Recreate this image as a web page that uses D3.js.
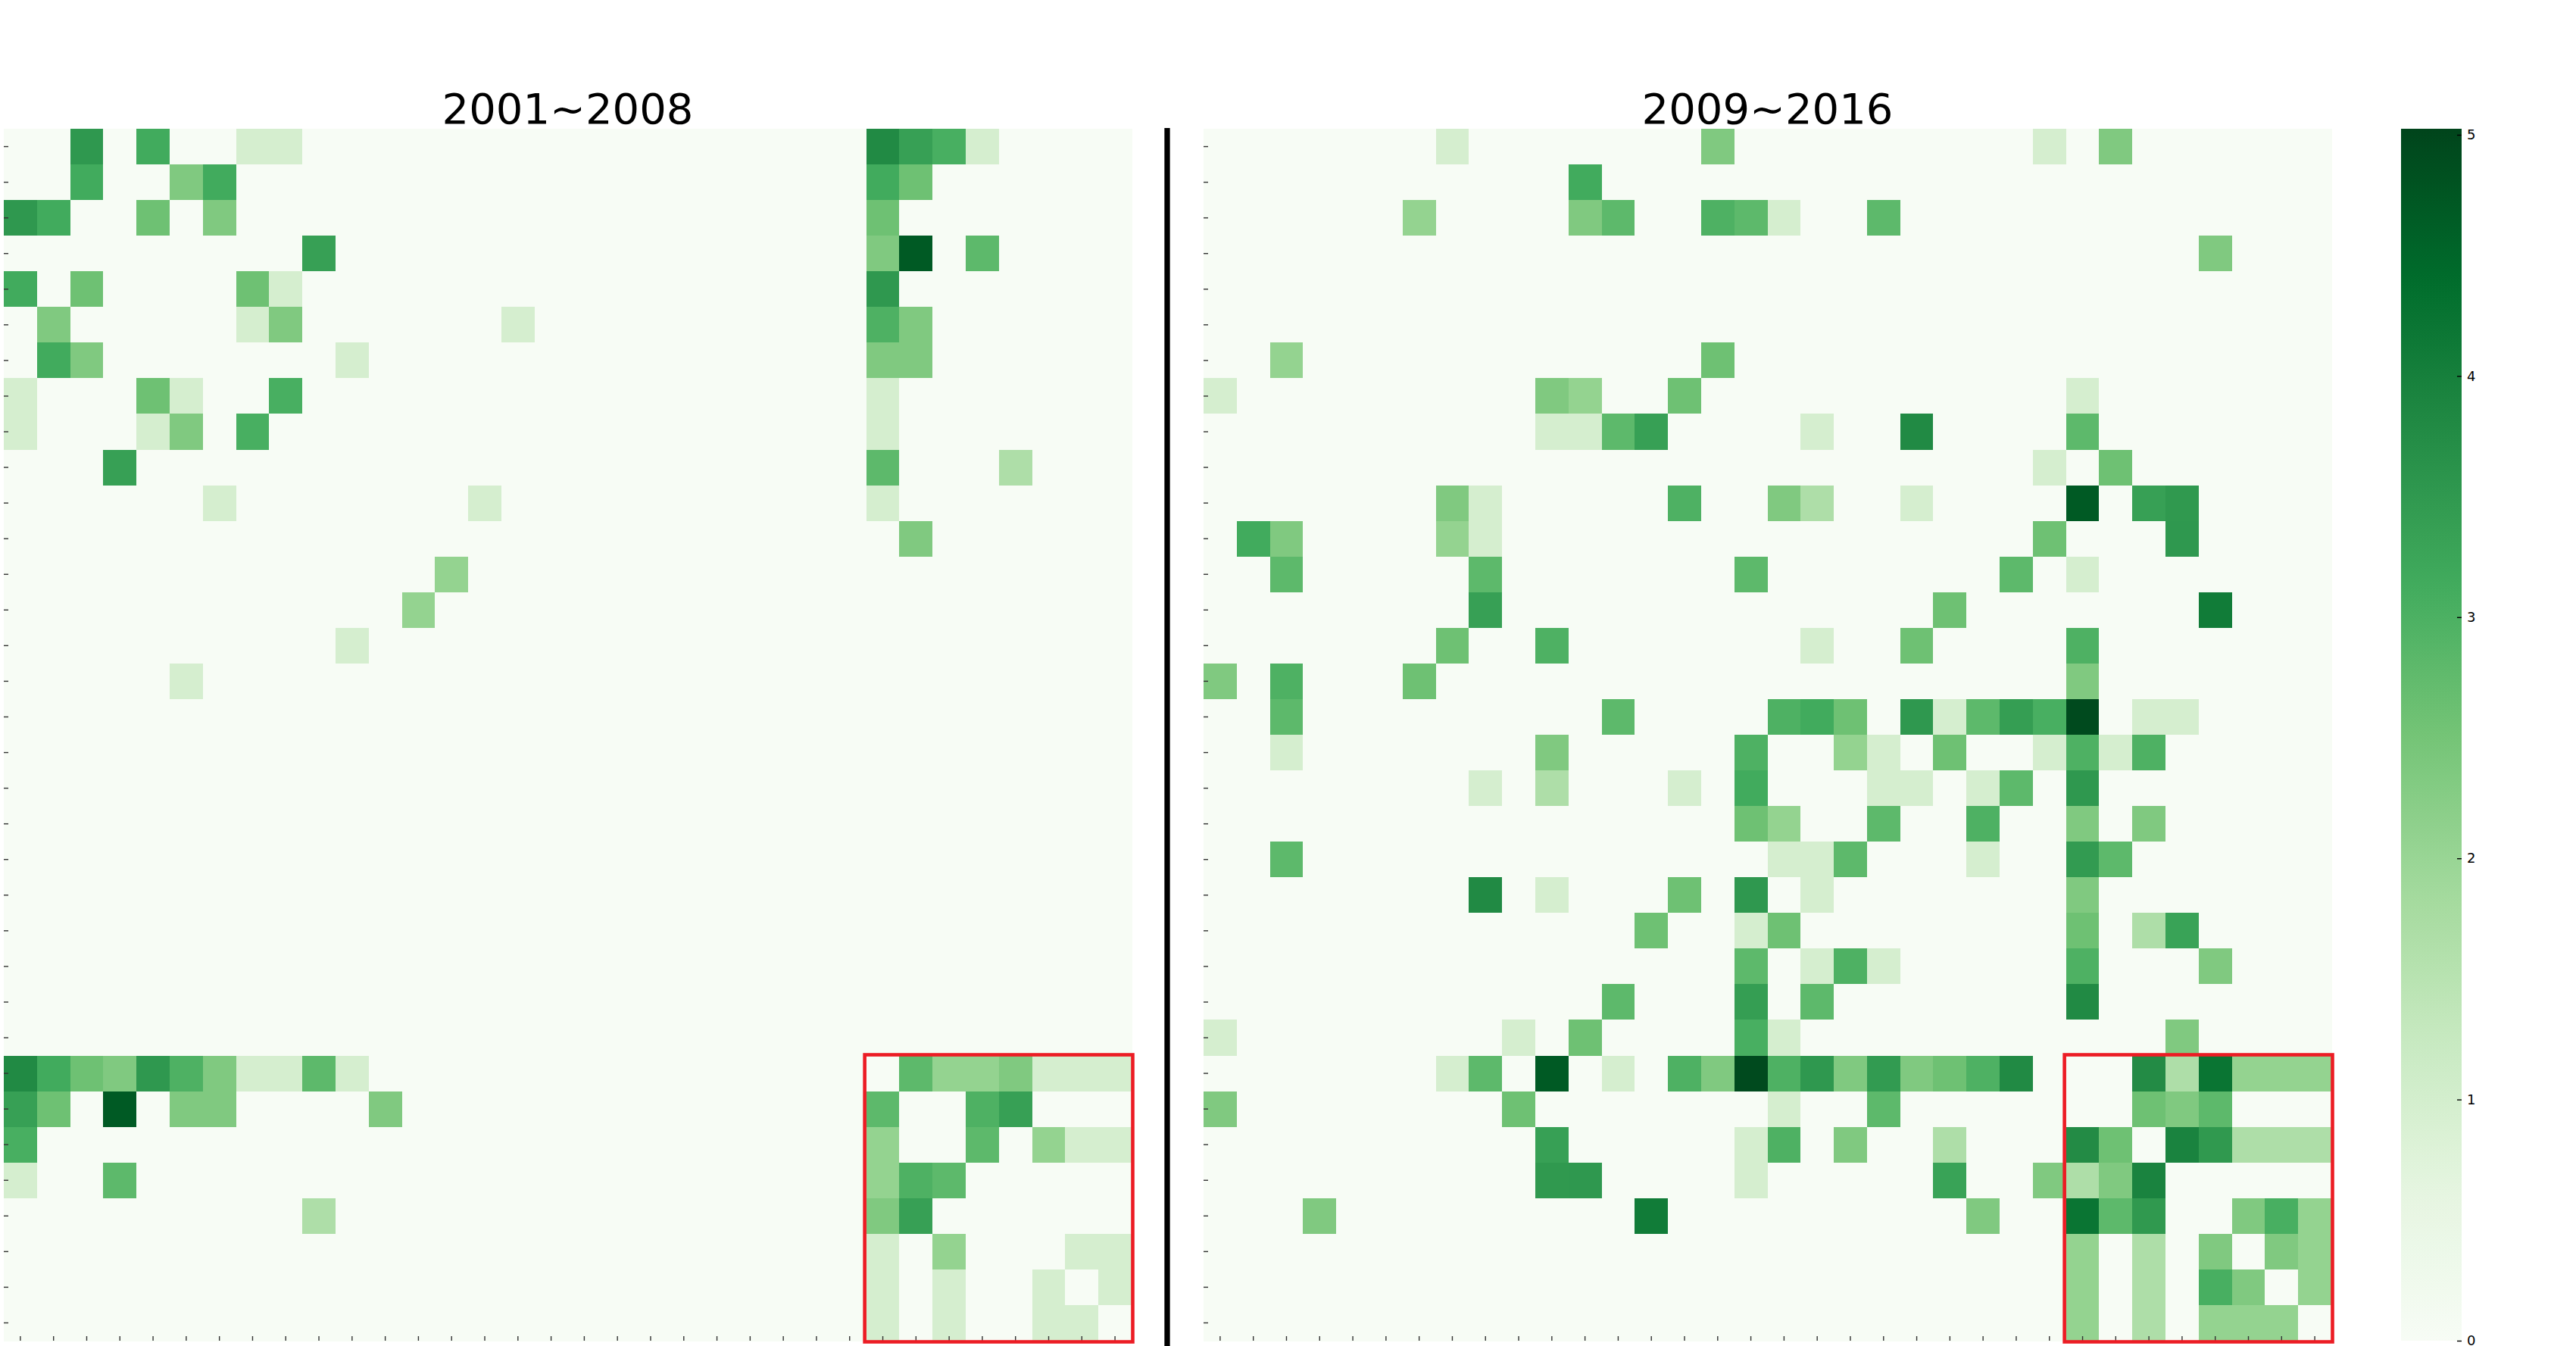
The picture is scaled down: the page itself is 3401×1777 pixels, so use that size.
<!DOCTYPE html>
<html>
<head>
<meta charset="utf-8">
<script src="https://cdn.jsdelivr.net/npm/d3@7"></script>
<style>
  html, body { margin: 0; padding: 0; background: #ffffff; }
  svg { display: block; }
  text { font-family: "DejaVu Sans", sans-serif; }
</style>
</head>
<body>
<script>
// ---------------- DATA ----------------
const nodeIds = [0,1,2,3,4,5,6,7,8,9,10,11,12,13,14,15,16,17,18,19,20,21,22,23,24,25,26,27,28,29,30,31,32,33];
const periods = ["2001~2008", "2009~2016"];
const colorbarTicks = [0, 1, 2, 3, 4, 5];
const colorMax = 5.025;
const highlightStart = 26;   // first node of highlighted (red-boxed) block
const highlightEnd = 33;     // last node of highlighted block

// [row, col, value]; all other cells are 0
const cells_2001_2008 = [
  [0,2,3.52],[0,4,3.14],[0,7,0.97],[0,8,0.97],[0,26,3.8],[0,27,3.35],[0,28,3.05],[0,29,0.97],
  [1,2,3.14],[1,5,2.35],[1,6,3.14],[1,26,3.14],[1,27,2.59],
  [2,0,3.52],[2,1,3.14],[2,4,2.59],[2,6,2.35],[2,26,2.59],
  [3,9,3.35],[3,26,2.35],[3,27,4.69],[3,29,2.8],
  [4,0,3.14],[4,2,2.59],[4,7,2.59],[4,8,0.97],[4,26,3.52],
  [5,1,2.35],[5,7,0.97],[5,8,2.35],[5,15,0.97],[5,26,2.98],[5,27,2.35],
  [6,1,3.14],[6,2,2.35],[6,10,0.97],[6,26,2.35],[6,27,2.35],
  [7,0,0.97],[7,4,2.59],[7,5,0.97],[7,8,3.05],[7,26,0.97],
  [8,0,0.97],[8,4,0.97],[8,5,2.35],[8,7,3.05],[8,26,0.97],
  [9,3,3.35],[9,26,2.8],[9,30,1.67],
  [10,6,0.97],[10,14,0.97],[10,26,0.97],
  [11,27,2.35],
  [12,13,2.07],
  [13,12,2.07],
  [14,10,0.97],
  [15,5,0.97],
  [26,0,3.8],[26,1,3.14],[26,2,2.59],[26,3,2.35],[26,4,3.52],[26,5,2.98],[26,6,2.35],[26,7,0.97],[26,8,0.97],[26,9,2.8],[26,10,0.97],
  [26,27,2.8],[26,28,2.07],[26,29,2.07],[26,30,2.35],[26,31,0.97],[26,32,0.97],[26,33,0.97],
  [27,0,3.35],[27,1,2.59],[27,3,4.69],[27,5,2.35],[27,6,2.35],[27,11,2.35],[27,26,2.8],[27,29,2.98],[27,30,3.35],
  [28,0,3.05],[28,26,2.07],[28,29,2.8],[28,31,2.07],[28,32,0.97],[28,33,0.97],
  [29,0,0.97],[29,3,2.8],[29,26,2.07],[29,27,2.98],[29,28,2.8],
  [30,9,1.67],[30,26,2.35],[30,27,3.35],
  [31,26,0.97],[31,28,2.07],[31,32,0.97],[31,33,0.97],
  [32,26,0.97],[32,28,0.97],[32,31,0.97],[32,33,0.97],
  [33,26,0.97],[33,28,0.97],[33,31,0.97],[33,32,0.97]
];

const cells_2009_2016 = [
  [0,7,0.97],[0,15,2.35],[0,25,0.97],[0,27,2.35],
  [1,11,3.14],
  [2,6,2.07],[2,11,2.35],[2,12,2.8],[2,15,2.98],[2,16,2.8],[2,17,0.97],[2,20,2.8],
  [3,30,2.35],
  [6,2,2.07],[6,15,2.59],
  [7,0,0.97],[7,10,2.35],[7,11,2.07],[7,14,2.59],[7,26,0.97],
  [8,10,0.97],[8,11,0.97],[8,12,2.8],[8,13,3.35],[8,18,0.97],[8,21,3.8],[8,26,2.8],
  [9,25,0.97],[9,27,2.59],
  [10,7,2.35],[10,8,0.97],[10,14,2.98],[10,17,2.35],[10,18,1.67],[10,21,0.97],[10,26,4.69],[10,28,3.35],[10,29,3.5],
  [11,1,3.14],[11,2,2.35],[11,7,2.07],[11,8,0.97],[11,25,2.59],[11,29,3.52],
  [12,2,2.8],[12,8,2.8],[12,16,2.8],[12,24,2.8],[12,26,0.97],
  [13,8,3.35],[13,22,2.59],[13,30,4.09],
  [14,7,2.59],[14,10,2.98],[14,18,0.97],[14,21,2.59],[14,26,2.98],
  [15,0,2.35],[15,2,2.98],[15,6,2.59],[15,26,2.35],
  [16,2,2.8],[16,12,2.8],[16,17,2.98],[16,18,3.14],[16,19,2.59],[16,21,3.52],[16,22,0.97],[16,23,2.8],[16,24,3.4],[16,25,3.05],[16,26,4.93],[16,28,0.97],[16,29,0.97],
  [17,2,0.97],[17,10,2.35],[17,16,2.98],[17,19,2.07],[17,20,0.97],[17,22,2.59],[17,25,0.97],[17,26,2.98],[17,27,0.97],[17,28,2.98],
  [18,8,0.97],[18,10,1.67],[18,14,0.97],[18,16,3.14],[18,20,0.97],[18,21,0.97],[18,23,0.97],[18,24,2.8],[18,26,3.52],
  [19,16,2.59],[19,17,2.07],[19,20,2.8],[19,23,2.98],[19,26,2.35],[19,28,2.35],
  [20,2,2.8],[20,17,0.97],[20,18,0.97],[20,19,2.8],[20,23,0.97],[20,26,3.45],[20,27,2.8],
  [21,8,3.8],[21,10,0.97],[21,14,2.59],[21,16,3.52],[21,18,0.97],[21,26,2.35],
  [22,13,2.59],[22,16,0.97],[22,17,2.59],[22,26,2.59],[22,28,1.67],[22,29,3.3],
  [23,16,2.8],[23,18,0.97],[23,19,2.98],[23,20,0.97],[23,26,2.98],[23,30,2.35],
  [24,12,2.8],[24,16,3.4],[24,18,2.8],[24,26,3.8],
  [25,0,0.97],[25,9,0.97],[25,11,2.59],[25,16,3.05],[25,17,0.97],[25,29,2.35],
  [26,7,0.97],[26,8,2.8],[26,10,4.69],[26,12,0.97],[26,14,2.98],[26,15,2.35],[26,16,4.93],[26,17,2.98],[26,18,3.52],[26,19,2.35],[26,20,3.45],[26,21,2.35],[26,22,2.59],[26,23,2.98],[26,24,3.8],
  [26,28,3.77],[26,29,1.67],[26,30,4.22],[26,31,2.07],[26,32,2.07],[26,33,2.07],
  [27,0,2.35],[27,9,2.59],[27,17,0.97],[27,20,2.8],[27,28,2.59],[27,29,2.35],[27,30,2.8],
  [28,10,3.35],[28,16,0.97],[28,17,2.98],[28,19,2.35],[28,22,1.67],[28,26,3.77],[28,27,2.59],[28,29,3.93],[28,30,3.5],[28,31,1.67],[28,32,1.67],[28,33,1.67],
  [29,10,3.5],[29,11,3.52],[29,16,0.97],[29,22,3.3],[29,25,2.35],[29,26,1.67],[29,27,2.35],[29,28,3.93],
  [30,3,2.35],[30,13,4.09],[30,23,2.35],[30,26,4.22],[30,27,2.8],[30,28,3.5],[30,31,2.35],[30,32,3.05],[30,33,2.07],
  [31,26,2.07],[31,28,1.67],[31,30,2.35],[31,32,2.35],[31,33,2.07],
  [32,26,2.07],[32,28,1.67],[32,30,3.05],[32,31,2.35],[32,33,2.07],
  [33,26,2.07],[33,28,1.67],[33,30,2.07],[33,31,2.07],[33,32,2.07]
];

// matplotlib "Greens" anchor colours
const greens = ["#f7fcf5","#e5f5e0","#c7e9c0","#a1d99b","#74c476","#41ab5d","#238b45","#006d2c","#00441b"];

// ---------------- LAYOUT ----------------
const W = 3401, H = 1777;
const gridTop = 170, gridBottom = 1770;
const gridW = 1489;
const panelsX = [5, 1589];

const svg = d3.select("body").append("svg")
  .attr("width", W).attr("height", H)
  .attr("viewBox", `0 0 ${W} ${H}`);
svg.append("rect").attr("width", W).attr("height", H).attr("fill", "#ffffff");

const color = d3.scaleLinear()
  .domain(greens.map((_, i) => i / (greens.length - 1) * colorMax))
  .range(greens)
  .interpolate(d3.interpolateRgb)
  .clamp(true);

const y = d3.scaleBand().domain(nodeIds).range([gridTop, gridBottom]).padding(0);

function fullMatrix(cells) {
  const m = new Map(cells.map(([r, c, v]) => [r + "_" + c, v]));
  const out = [];
  nodeIds.forEach(r => nodeIds.forEach(c => out.push({ r, c, v: m.get(r + "_" + c) || 0 })));
  return out;
}

const panelData = [cells_2001_2008, cells_2009_2016];

panelData.forEach((cells, p) => {
  const x0 = panelsX[p];
  const x = d3.scaleBand().domain(nodeIds).range([x0, x0 + gridW]).padding(0);
  const g = svg.append("g");

  g.selectAll("rect.cell")
    .data(fullMatrix(cells))
    .join("rect")
    .attr("class", "cell")
    .attr("x", d => x(d.c))
    .attr("y", d => y(d.r))
    .attr("width", x.bandwidth() + 0.6)
    .attr("height", y.bandwidth() + 0.6)
    .attr("fill", d => color(d.v))
    .attr("shape-rendering", "crispEdges");

  // left ticks (drawn inward)
  const ya = g.append("g").attr("transform", `translate(${x0},0)`)
    .call(d3.axisRight(y).tickSize(6).tickFormat(""));
  ya.select(".domain").remove();
  ya.selectAll("line").attr("stroke", "#333").attr("stroke-width", 1.4);

  // bottom ticks (drawn inward)
  const xa = g.append("g").attr("transform", `translate(0,${gridBottom})`)
    .call(d3.axisTop(x).tickSize(6).tickFormat(""));
  xa.select(".domain").remove();
  xa.selectAll("line").attr("stroke", "#333").attr("stroke-width", 1.4);

  // title
  g.append("text")
    .attr("x", x0 + gridW / 2)
    .attr("y", 163)
    .attr("text-anchor", "middle")
    .attr("font-size", 56)
    .attr("fill", "#000")
    .text(periods[p]);

  // highlighted block outline
  const bx0 = x(highlightStart) - 2;
  const by0 = y(highlightStart) - 1;
  const bx1 = x(highlightEnd) + x.bandwidth() + 1.5;
  const by1 = y(highlightEnd) + y.bandwidth() + 1.5;
  g.append("rect")
    .attr("x", bx0).attr("y", by0)
    .attr("width", bx1 - bx0).attr("height", by1 - by0)
    .attr("fill", "none")
    .attr("stroke", "#ec1c24")
    .attr("stroke-width", 4.6);
});

// separator line
svg.append("line")
  .attr("x1", 1541).attr("x2", 1541)
  .attr("y1", 169).attr("y2", H)
  .attr("stroke", "#000").attr("stroke-width", 7.3);

// ---------------- COLORBAR ----------------
const cbX = 3170, cbW = 80;
const cbScale = d3.scaleLinear().domain([0, colorMax]).range([gridBottom, gridTop]);
const defs = svg.append("defs");
const grad = defs.append("linearGradient")
  .attr("id", "cbgrad").attr("x1", 0).attr("y1", 1).attr("x2", 0).attr("y2", 0);
d3.range(0, 1.0001, 0.02).forEach(t => {
  grad.append("stop").attr("offset", t).attr("stop-color", color(t * colorMax));
});
svg.append("rect")
  .attr("x", cbX).attr("y", gridTop)
  .attr("width", cbW).attr("height", gridBottom - gridTop)
  .attr("fill", "url(#cbgrad)");

const cbAxis = svg.append("g").attr("transform", `translate(${cbX + cbW},0)`)
  .call(d3.axisRight(cbScale).tickValues(colorbarTicks).tickSize(0).tickPadding(7).tickFormat(d3.format("d")));
cbAxis.select(".domain").remove();
cbAxis.selectAll("text").attr("font-size", 18).attr("fill", "#000")
  .attr("font-family", "DejaVu Sans, sans-serif");
cbAxis.selectAll(".tick").append("line")
  .attr("x1", -6).attr("x2", 0).attr("y1", 0).attr("y2", 0)
  .attr("stroke", "#000").attr("stroke-width", 1.4);
</script>
</body>
</html>
